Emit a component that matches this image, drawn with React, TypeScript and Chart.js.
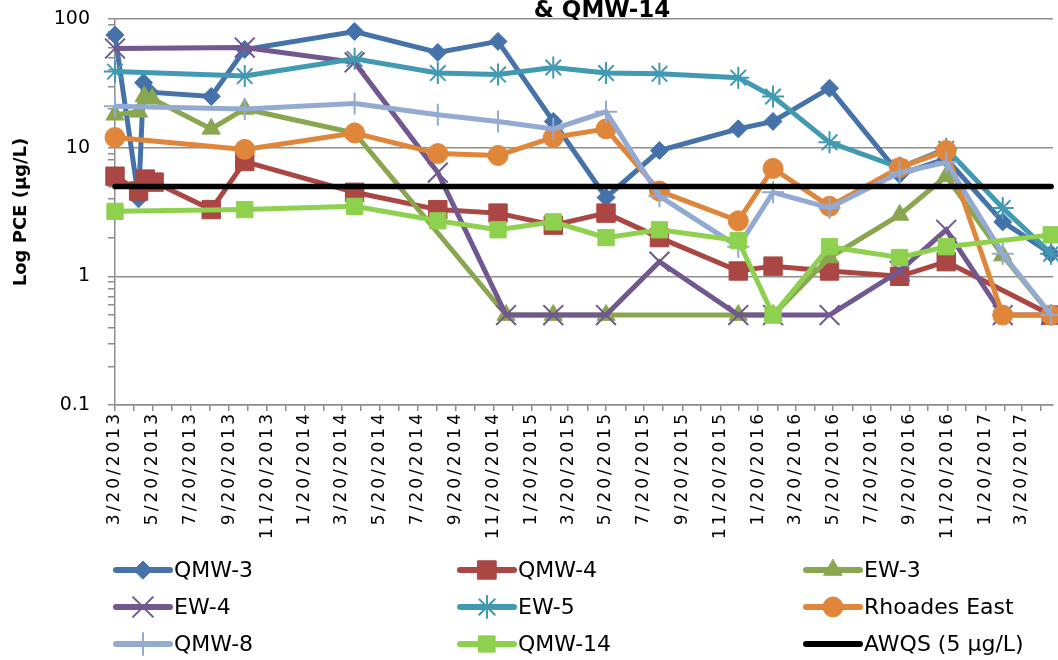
import React, { useEffect, useRef } from 'react';
import { Chart, registerables, LinearScale } from 'chart.js';
import { drawPoint } from 'chart.js/helpers';

Chart.register(...registerables);

class SpacedLinearScale extends LinearScale {
  static id = 'spacedLinear';
  static defaults = LinearScale.defaults;
  drawLabels(chartArea: any) {
    const ctx = this.ctx as any;
    ctx.save();
    ctx.letterSpacing = '3px';
    super.drawLabels(chartArea);
    ctx.restore();
  }
}
Chart.register(SpacedLinearScale as any);

// ---------------- data ----------------
const TITLE = '& QMW-14';
const Y_TITLE = 'Log PCE (µg/L)';
const X_MIN_DATE = '3/20/2013';
const X_MAX_DATE = '5/9/2017';
const X_TICK_LABELS = [
  '3/20/2013', '5/20/2013', '7/20/2013', '9/20/2013', '11/20/2013',
  '1/20/2014', '3/20/2014', '5/20/2014', '7/20/2014', '9/20/2014', '11/20/2014',
  '1/20/2015', '3/20/2015', '5/20/2015', '7/20/2015', '9/20/2015', '11/20/2015',
  '1/20/2016', '3/20/2016', '5/20/2016', '7/20/2016', '9/20/2016', '11/20/2016',
  '1/20/2017', '3/20/2017',
];
const Y_TICK_LABELS = ['0.1', '1', '10', '100'];

const QMW3_DATES = ['3/20/2013', '4/27/2013', '5/5/2013', '5/15/2013', '8/22/2013', '10/15/2013', '4/10/2014', '8/22/2014', '11/27/2014', '2/24/2015', '5/20/2015', '8/14/2015', '12/19/2015', '2/13/2016', '5/14/2016', '9/4/2016', '11/18/2016', '2/17/2017', '5/6/2017'];
const QMW3 = [75, 4, 32, 27, 25, 58, 80, 55, 67, 16, 4.1, 9.5, 14, 16, 29, 6.2, 8.2, 2.65, 1.5];

const QMW4_DATES = ['3/20/2013', '4/27/2013', '5/8/2013', '5/22/2013', '8/22/2013', '10/15/2013', '4/10/2014', '8/22/2014', '11/27/2014', '2/24/2015', '5/20/2015', '8/14/2015', '12/19/2015', '2/13/2016', '5/14/2016', '9/4/2016', '11/18/2016', '5/6/2017'];
const QMW4 = [6, 4.6, 5.7, 5.4, 3.3, 7.8, 4.5, 3.3, 3.1, 2.5, 3.1, 2.0, 1.1, 1.2, 1.1, 1.0, 1.3, 0.5];

const EW3_DATES = ['3/20/2013', '4/27/2013', '5/6/2013', '5/19/2013', '8/22/2013', '10/15/2013', '4/10/2014', '12/10/2014', '2/24/2015', '5/20/2015', '12/19/2015', '2/13/2016', '5/14/2016', '9/4/2016', '11/18/2016', '2/17/2017', '5/6/2017'];
const EW3 = [18, 19, 25, 24, 14, 20, 13, 0.5, 0.5, 0.5, 0.5, 0.5, 1.4, 3.0, 6.0, 1.45, 0.5];

const EW4_DATES = ['3/20/2013', '10/15/2013', '4/10/2014', '8/22/2014', '12/10/2014', '2/24/2015', '5/20/2015', '8/14/2015', '12/19/2015', '2/13/2016', '5/14/2016', '9/4/2016', '11/18/2016', '2/17/2017', '5/6/2017'];
const EW4 = [59, 60, 46, 6.4, 0.5, 0.5, 0.5, 1.3, 0.5, 0.5, 0.5, 1.1, 2.3, 0.5, 0.5];

const EW5_DATES = ['3/20/2013', '10/15/2013', '4/10/2014', '8/22/2014', '11/27/2014', '2/24/2015', '5/20/2015', '8/14/2015', '12/19/2015', '2/13/2016', '5/14/2016', '9/4/2016', '11/18/2016', '2/17/2017', '5/6/2017'];
const EW5 = [39, 36, 49, 38, 37, 42, 38, 37.5, 35, 25, 11, 7, 9.8, 3.4, 1.5];

const RHOADES_DATES = ['3/20/2013', '10/15/2013', '4/10/2014', '8/22/2014', '11/27/2014', '2/24/2015', '5/20/2015', '8/14/2015', '12/19/2015', '2/13/2016', '5/14/2016', '9/4/2016', '11/18/2016', '2/17/2017', '5/6/2017'];
const RHOADES = [12, 9.7, 13, 9, 8.7, 12, 14, 4.6, 2.7, 6.9, 3.5, 7, 9.5, 0.5, 0.5];

const QMW8_DATES = ['3/20/2013', '10/15/2013', '4/10/2014', '8/22/2014', '11/27/2014', '2/24/2015', '5/20/2015', '8/14/2015', '12/19/2015', '2/13/2016', '5/14/2016', '9/4/2016', '11/18/2016', '2/17/2017', '5/6/2017'];
const QMW8 = [21, 20, 22, 18, 16, 14, 19, 4.2, 1.7, 4.5, 3.4, 6.4, 7.7, 1.5, 0.5];

const QMW14_DATES = ['3/20/2013', '10/15/2013', '4/10/2014', '8/22/2014', '11/27/2014', '2/24/2015', '5/20/2015', '8/14/2015', '12/19/2015', '2/13/2016', '5/14/2016', '9/4/2016', '11/18/2016', '5/6/2017'];
const QMW14 = [3.2, 3.3, 3.5, 2.7, 2.3, 2.65, 2.0, 2.3, 1.9, 0.5, 1.7, 1.4, 1.7, 2.1];

const AWQS_DATES = ['3/20/2013', '5/6/2017'];
const AWQS = [5, 5];

// ---------------- helpers ----------------
function parseDate(s: string) {
  const [m, d, y] = s.split('/').map(Number);
  return Date.UTC(y, m - 1, d);
}
const BASE = parseDate(X_MIN_DATE);
const dayOf = (s: string) => Math.round((parseDate(s) - BASE) / 86400000);
const XMAX = dayOf(X_MAX_DATE);

function buildXTicks() {
  const ticks: { value: number; label: string }[] = [];
  X_TICK_LABELS.forEach((lab) => {
    ticks.push({ value: dayOf(lab), label: lab });
    const [m, d, y] = lab.split('/').map(Number);
    const nm = m === 12 ? 1 : m + 1;
    const ny = m === 12 ? y + 1 : y;
    const v = dayOf(`${nm}/${d}/${ny}`);
    if (v <= XMAX) ticks.push({ value: v, label: '' });
  });
  return ticks;
}

const pts = (dates: string[], vals: number[]) => dates.map((d, i) => ({ x: dayOf(d), y: vals[i] }));

const FONT = "'DejaVu Sans'";
const GRID = '#8e8e8e';

const zeroPadding = (scale: any) => {
  scale.paddingTop = 0;
  scale.paddingBottom = 0;
  scale.paddingLeft = 0;
  scale.paddingRight = 0;
};

const legendPlugin = {
  id: 'gridLegend',
  afterDraw(chart: any) {
    const ctx = chart.ctx;
    const colX = [116, 460, 806];
    const rowY = [570, 607, 644];
    chart.data.datasets.forEach((ds: any, i: number) => {
      const x0 = colX[i % 3];
      const y = rowY[Math.floor(i / 3)];
      ctx.save();
      ctx.strokeStyle = ds.borderColor;
      ctx.lineWidth = 6;
      ctx.lineCap = 'round';
      ctx.beginPath();
      ctx.moveTo(x0, y);
      ctx.lineTo(x0 + 54, y);
      ctx.stroke();
      if (ds.pointRadius > 0) {
        ctx.fillStyle = ds.pointBackgroundColor;
        ctx.strokeStyle = ds.pointBorderColor;
        ctx.lineWidth = ds.pointBorderWidth;
        drawPoint(ctx, { pointStyle: ds.pointStyle, radius: ds.pointRadius, rotation: 0, borderWidth: ds.pointBorderWidth } as any, x0 + 27, y);
      }
      ctx.fillStyle = '#000';
      ctx.font = `22px ${FONT}`;
      ctx.textAlign = 'left';
      ctx.textBaseline = 'middle';
      ctx.fillText(ds.label, x0 + 58, y + 1);
      ctx.restore();
    });
  },
};

const titlePlugin = {
  id: 'cutTitle',
  afterDraw(chart: any) {
    const ctx = chart.ctx;
    ctx.save();
    ctx.fillStyle = '#000';
    ctx.font = `bold 23px ${FONT}`;
    ctx.textAlign = 'center';
    ctx.textBaseline = 'alphabetic';
    ctx.fillText(TITLE, 602, 17);
    ctx.restore();
  },
};

function series(label: string, dates: string[], vals: number[], color: string, style: any, radius: number, pbw: number, order: number) {
  return {
    label,
    data: pts(dates, vals),
    borderColor: color,
    backgroundColor: color,
    borderWidth: 5,
    pointStyle: style,
    pointRadius: radius,
    pointBackgroundColor: color,
    pointBorderColor: color,
    pointBorderWidth: pbw,
    pointHoverRadius: radius,
    tension: 0,
    fill: false,
    clip: false,
    order,
  };
}

export default function App() {
  const ref = useRef<HTMLCanvasElement>(null);
  useEffect(() => {
    document.body.style.margin = '0';
    const xTicks = buildXTicks();
    const xLabelMap = new Map<number, string>(xTicks.map((t) => [t.value, t.label]));
    const yTicks: number[] = [];
    [-1, 0, 1].forEach((e) => {
      for (let m = 1; m <= 9; m++) yTicks.push(m * Math.pow(10, e));
    });
    yTicks.push(100);
    const isDecade = (v: number) => Math.abs(Math.log10(v) - Math.round(Math.log10(v))) < 1e-6;

    const datasets: any[] = [
      series('QMW-3', QMW3_DATES, QMW3, '#4672AA', 'rectRot', 9, 1, 9),
      series('QMW-4', QMW4_DATES, QMW4, '#AA4643', 'rect', 13, 1, 8),
      series('EW-3', EW3_DATES, EW3, '#8AA64F', 'triangle', 10.5, 1, 7),
      series('EW-4', EW4_DATES, EW4, '#71588F', 'crossRot', 14, 2, 6),
      series('EW-5', EW5_DATES, EW5, '#4199B2', 'star', 11, 2, 5),
      series('Rhoades East', RHOADES_DATES, RHOADES, '#DF863B', 'circle', 10, 1, 4),
      series('QMW-8', QMW8_DATES, QMW8, '#93AAD2', 'cross', 11, 2, 3),
      series('QMW-14', QMW14_DATES, QMW14, '#8ED14F', 'rect', 11.5, 1, 2),
      { ...series('AWQS (5 µg/L)', AWQS_DATES, AWQS, '#000000', 'line', 0, 0, 1), borderWidth: 5.5, borderCapStyle: 'round' },
    ];

    const chart = new Chart(ref.current as HTMLCanvasElement, {
      type: 'line',
      data: { datasets },
      options: {
        animation: false,
        responsive: false,
        maintainAspectRatio: false,
        layout: { autoPadding: false, padding: { top: 19, right: 5, left: 0, bottom: 0 } },
        plugins: {
          legend: { display: false },
          title: { display: false },
          tooltip: { enabled: false },
        },
        scales: {
          x: {
            type: 'spacedLinear' as any,
            min: 0,
            max: XMAX,
            afterBuildTicks: (scale: any) => {
              scale.ticks = xTicks.map((t) => ({ value: t.value }));
            },
            afterFit: (scale: any) => {
              scale.height = 255;
              zeroPadding(scale);
            },
            ticks: {
              autoSkip: false,
              minRotation: 90,
              maxRotation: 90,
              padding: 0,
              color: '#000',
              font: { family: FONT, size: 17 },
              callback: (v: any) => xLabelMap.get(Number(v)) ?? '',
            },
            grid: { drawOnChartArea: false, drawTicks: true, tickLength: 6, color: GRID, lineWidth: 1.5 },
            border: { display: true, color: GRID, width: 1.5 },
          },
          y: {
            type: 'logarithmic',
            min: 0.1,
            max: 100,
            afterBuildTicks: (scale: any) => {
              scale.ticks = yTicks.map((v) => ({ value: v }));
            },
            afterFit: (scale: any) => {
              scale.width = 115;
              zeroPadding(scale);
            },
            ticks: {
              autoSkip: false,
              padding: 18,
              color: '#000',
              font: { family: FONT, size: 19 },
              callback: (v: any) => {
                const n = Number(v);
                if (!isDecade(n)) return '';
                return Y_TICK_LABELS[Math.round(Math.log10(n)) + 1];
              },
            },
            grid: {
              drawTicks: true,
              tickLength: 7,
              color: (c: any) => (c.tick && isDecade(c.tick.value) ? GRID : 'rgba(0,0,0,0)'),
              tickColor: GRID,
              lineWidth: 1.5,
            },
            border: { display: true, color: GRID, width: 1.5 },
            title: {
              display: true,
              text: Y_TITLE,
              color: '#000',
              font: { family: FONT, size: 18, weight: 'bold' },
              padding: { top: 11, bottom: 0 },
            },
          },
        },
      } as any,
      plugins: [legendPlugin, titlePlugin],
    });
    return () => chart.destroy();
  }, []);
  return <canvas ref={ref} width={1058} height={660} style={{ display: 'block', width: 1058, height: 660 }} />;
}
